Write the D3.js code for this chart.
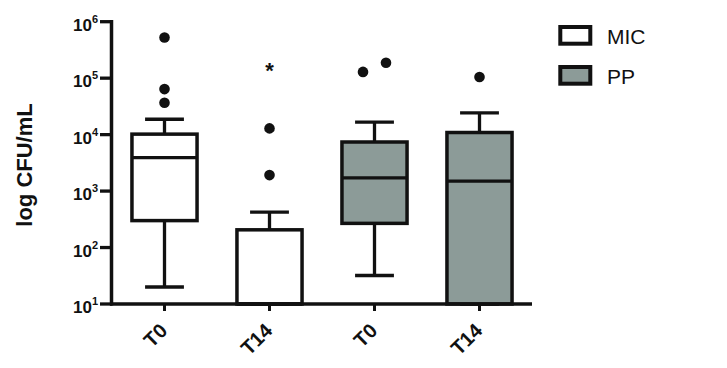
<!DOCTYPE html>
<html><head><meta charset="utf-8">
<script src="https://cdn.jsdelivr.net/npm/d3@7"></script>
<style>body{margin:0;background:#fff}svg{display:block}text{font-family:"Liberation Sans",Arial,sans-serif}</style>
</head><body><div id="chart"></div>
<script>
const categories = ["T0","T14","T0","T14"];
const groups = ["MIC","MIC","PP","PP"];
const whiskerLow = [20, 10, 32, 10];
const q1 = [300, 10, 268, 10];
const median = [3900, 10, 1720, 1500];
const q3 = [10200, 206, 7400, 10900];
const whiskerHigh = [18700, 425, 16700, 24300];
const outliers = [[525000, 64000, 36600], [12900, 1920], [129000, 187000], [105000]];
const significance = ["", "*", "", ""];
const yTicks = [1e1, 1e2, 1e3, 1e4, 1e5, 1e6];
const legendGroups = ["MIC", "PP"];
const groupColors = {MIC: "#ffffff", PP: "#8c9b98"};

const W = 727, H = 368;
const svg = d3.select("#chart").append("svg").attr("width", W).attr("height", H);
const x = d3.scaleBand().domain(d3.range(categories.length)).range([112, 532]).padding(0);
const y = d3.scaleLog().domain([10, 1e6]).range([304, 21.7]);
const boxW = x.bandwidth() * 0.62, capW = x.bandwidth() * 0.37;
const cx = i => x(i) + x.bandwidth() / 2;
const ink = "#111";

const g = svg.append("g");
categories.forEach((c, i) => {
  const b = g.append("g");
  b.append("line").attr("x1", cx(i)).attr("x2", cx(i)).attr("y1", y(q3[i])).attr("y2", y(whiskerHigh[i])).attr("stroke", ink).attr("stroke-width", 3.3);
  b.append("line").attr("x1", cx(i)).attr("x2", cx(i)).attr("y1", y(q1[i])).attr("y2", y(whiskerLow[i])).attr("stroke", ink).attr("stroke-width", 3.3);
  [whiskerHigh[i], whiskerLow[i]].forEach(v => {
    b.append("line").attr("x1", cx(i) - capW / 2).attr("x2", cx(i) + capW / 2).attr("y1", y(v)).attr("y2", y(v)).attr("stroke", ink).attr("stroke-width", 3.3);
  });
  b.append("rect").attr("x", cx(i) - boxW / 2).attr("width", boxW).attr("y", y(q3[i])).attr("height", y(q1[i]) - y(q3[i]))
    .attr("fill", groupColors[groups[i]]).attr("stroke", ink).attr("stroke-width", 3.5);
  b.append("line").attr("x1", cx(i) - boxW / 2).attr("x2", cx(i) + boxW / 2).attr("y1", y(median[i])).attr("y2", y(median[i])).attr("stroke", ink).attr("stroke-width", 3.3);
  const r = 5.3;
  const pts = outliers[i].map(v => ({v, py: y(v), dx: 0})).sort((a, b2) => a.py - b2.py);
  for (let k = 1; k < pts.length; k++) {
    if (Math.abs(pts[k].py - pts[k - 1].py) < 2 * r + 1) { pts[k - 1].dx = 11.5; pts[k].dx = -11.5; }
  }
  pts.forEach(p => b.append("circle").attr("cx", cx(i) + p.dx).attr("cy", p.py).attr("r", r).attr("fill", ink));
  if (significance[i]) {
    b.append("text").attr("x", cx(i)).attr("y", y(whiskerHigh[i]) - 134).text(significance[i])
      .attr("text-anchor", "middle").attr("font-size", 22).attr("font-weight", "bold").attr("fill", ink);
  }
});

const ax = svg.append("g");
ax.append("line").attr("x1", 111.5).attr("x2", 111.5).attr("y1", 20).attr("y2", 305.5).attr("stroke", ink).attr("stroke-width", 3.5);
ax.append("line").attr("x1", 110).attr("x2", 532).attr("y1", 304).attr("y2", 304).attr("stroke", ink).attr("stroke-width", 3.5);
yTicks.forEach(t => {
  ax.append("line").attr("x1", 100).attr("x2", 112).attr("y1", y(t)).attr("y2", y(t)).attr("stroke", ink).attr("stroke-width", 3.3);
  const e = Math.round(Math.log10(t));
  const tx = ax.append("text").attr("x", 98).attr("y", y(t) + 9).attr("text-anchor", "end").attr("font-weight", "bold").attr("fill", ink);
  tx.append("tspan").attr("font-size", 17).text("10");
  tx.append("tspan").attr("font-size", 11).attr("dy", -8).text(e);
});
categories.forEach((c, i) => {
  ax.append("line").attr("x1", cx(i)).attr("x2", cx(i)).attr("y1", 304).attr("y2", 311).attr("stroke", ink).attr("stroke-width", 3);
  ax.append("text").attr("transform", `translate(${cx(i) + 4},${332}) rotate(-45)`).attr("text-anchor", "end")
    .attr("font-size", 20).attr("font-weight", "bold").attr("fill", ink).text(c);
});
svg.append("text").attr("transform", "translate(32,165) rotate(-90)").attr("text-anchor", "middle")
  .attr("font-size", 22).attr("font-weight", "bold").attr("fill", ink).text("log CFU/mL");

legendGroups.forEach((grp, k) => {
  const ly = 27 + k * 40;
  svg.append("rect").attr("x", 560.3).attr("y", ly).attr("width", 30).attr("height", 16.7)
    .attr("fill", groupColors[grp]).attr("stroke", ink).attr("stroke-width", 4);
  svg.append("text").attr("x", 607).attr("y", ly + 16.5).attr("font-size", 21).attr("fill", ink).text(grp);
});
</script></body></html>
